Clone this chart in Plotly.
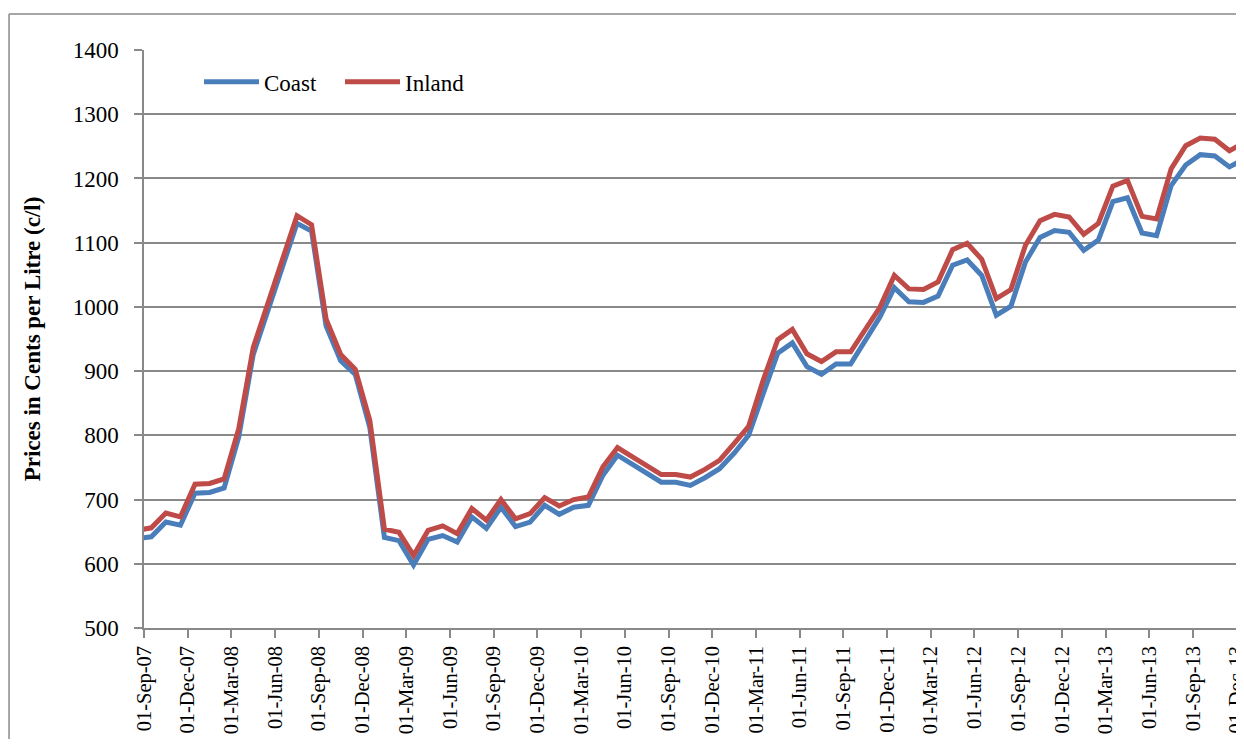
import pandas as pd
import plotly.graph_objects as go

# monthly prices, Aug-07 .. Dec-13 (c/l)
MONTHS = pd.date_range("2007-08-01", "2013-12-01", freq="MS")

COAST = [
    639, 642, 665, 660, 710, 711, 718, 797, 926, 994, 1061, 1130, 1118,
    970, 916, 895, 812, 641, 636, 598, 638, 644, 634, 673, 655, 688,
    658, 665, 691, 677, 688, 691, 738, 769, 755, 740, 727, 727, 722,
    734, 748, 772, 800, 865, 928, 944, 907, 895, 911, 911, 946, 984,
    1030, 1008, 1007, 1017, 1065, 1073, 1049, 987, 1001, 1070, 1108, 1119,
    1116, 1088, 1104, 1164, 1170, 1115, 1111, 1189, 1221, 1237, 1235, 1218,
    1230,
]
INLAND = [
    652, 656, 679, 673, 724, 725, 732, 810, 937, 1004, 1072, 1142, 1128,
    981, 926, 903, 823, 654, 649, 613, 652, 659, 647, 686, 668, 700,
    670, 678, 703, 690, 700, 704, 751, 781, 767, 752, 739, 739, 735,
    747, 761, 787, 814, 886, 949, 965, 927, 915, 930, 930, 964, 999,
    1049, 1028, 1027, 1039, 1089, 1099, 1074, 1013, 1027, 1096, 1134, 1144,
    1140, 1113, 1130, 1188, 1197, 1141, 1137, 1215, 1251, 1263, 1261, 1243,
    1256,
]

TICK_DATES = pd.date_range("2007-09-01", "2013-12-01", freq="3MS")
TICK_LABELS = [d.strftime("%d-%b-%y") for d in TICK_DATES]

START = pd.Timestamp("2007-09-01")


def month_pos(d):
    """Months since the axis start (Excel-like month slots)."""
    return (d.year - START.year) * 12 + (d.month - START.month)


# points sit in the middle of their month slot (axis between tick marks)
x_pts = [month_pos(d) + 0.5 for d in MONTHS]
tick_vals = [month_pos(d) for d in TICK_DATES]

FONT = "Liberation Serif, Times New Roman, serif"
GRID = "#898989"

fig = go.Figure()

fig.add_trace(go.Scatter(
    x=x_pts, y=COAST, name="Coast", mode="lines",
    line=dict(color="#4A7EBB", width=5),
))
fig.add_trace(go.Scatter(
    x=x_pts, y=INLAND, name="Inland", mode="lines",
    line=dict(color="#BE4B48", width=5),
))

# outer chart-area border (right/bottom fall outside the picture)
fig.add_shape(type="line", xref="paper", yref="paper",
              x0=-0.1227, x1=1.2, y0=1.0623, y1=1.0623,
              line=dict(color=GRID, width=1.5))
fig.add_shape(type="line", xref="paper", yref="paper",
              x0=-0.1227, x1=-0.1227, y0=1.0623, y1=-0.4,
              line=dict(color=GRID, width=1.5))

# the page body adds an 8px margin all round, so the figure is made
# 16px smaller in height (no scrollbar) and shifted by 8px
fig.update_layout(
    width=1236, height=731, autosize=False,
    margin=dict(l=136, r=0, t=42, b=111),
    paper_bgcolor="white", plot_bgcolor="white",
    font=dict(family=FONT, size=23, color="black"),
    showlegend=True,
    legend=dict(
        orientation="h", x=0.05, y=0.945, xanchor="left", yanchor="middle",
        bgcolor="rgba(0,0,0,0)", font=dict(family=FONT, size=23),
        itemwidth=55, entrywidth=71, traceorder="normal",
    ),
    xaxis=dict(
        range=[0, 75.5], tickmode="array", tickvals=tick_vals,
        ticktext=TICK_LABELS, tickangle=-90,
        tickfont=dict(family=FONT, size=20.5),
        ticks="outside", ticklen=8, tickwidth=1.5, tickcolor=GRID,
        showline=True, linecolor=GRID, linewidth=1.5,
        showgrid=False, zeroline=False, automargin=False,
        ticklabelstandoff=0, ticklabeloverflow="allow",
    ),
    yaxis=dict(
        range=[500, 1400], dtick=100, tick0=500,
        tickfont=dict(family=FONT, size=23),
        ticks="outside", ticklen=8, tickwidth=1.5, tickcolor=GRID,
        showline=True, linecolor=GRID, linewidth=1.5,
        showgrid=True, gridcolor=GRID, gridwidth=1.5,
        zeroline=False, automargin=False, ticklabelstandoff=11,
        title=dict(text="<b>Prices in Cents per Litre (c/l)</b>",
                   font=dict(family=FONT, size=23), standoff=26),
    ),
)

fig.write_html("out.html")
